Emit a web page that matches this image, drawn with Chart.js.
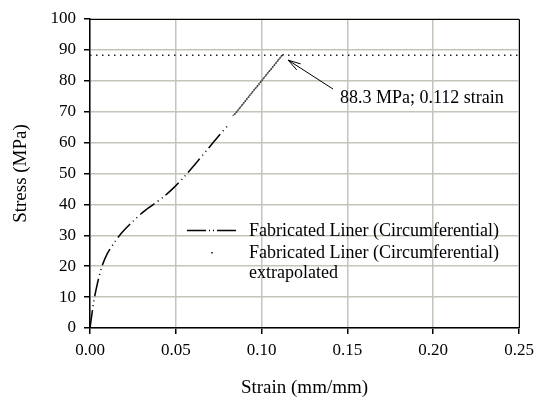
<!DOCTYPE html>
<html>
<head>
<meta charset="utf-8">
<script src="https://cdn.jsdelivr.net/npm/chart.js@4/dist/chart.umd.min.js"></script>
<style>
  html, body { margin: 0; padding: 0; background: #fff; }
  #wrap { width: 534px; height: 400px; }
</style>
</head>
<body>
<div id="wrap"><canvas id="stressStrain"></canvas></div>
<script>
'use strict';

// Data
// --------------------------------------------------------------------
const measuredStrain = [0, 0.001, 0.002, 0.003, 0.005, 0.007, 0.010, 0.014, 0.018, 0.025, 0.032, 0.037, 0.043, 0.049, 0.055, 0.062, 0.068, 0.074, 0.081];
const measuredStress = [0, 4, 8, 11, 16, 20, 24, 27.5, 30.5, 34.5, 38, 40, 42.5, 45.5, 49, 53.5, 57.5, 61.5, 66];

const extrapStrain = [0.084, 0.085, 0.086, 0.087, 0.088, 0.089, 0.090, 0.091, 0.092, 0.093, 0.094, 0.095, 0.096, 0.097, 0.098,
  0.099, 0.100, 0.101, 0.102, 0.103, 0.104, 0.105, 0.106, 0.107, 0.108, 0.109, 0.110, 0.111, 0.112];
const extrapStress = [69, 69.6, 70.3, 71, 71.7, 72.4, 73.1, 73.8, 74.5, 75.2, 75.9, 76.6, 77.3, 77.9, 78.6,
  79.3, 80, 80.7, 81.4, 82.1, 82.8, 83.4, 84.1, 84.8, 85.5, 86.2, 86.9, 87.6, 88.3];

const ultimateStress = 88.3;
const ultimateStrain = 0.112;
const limitStrain = [0, 0.25];

const seriesLabels = ['Fabricated Liner (Circumferential)', 'Fabricated Liner (Circumferential)\nextrapolated'];
const peakLabel = '88.3 MPa; 0.112 strain';
const xTicks = [0, 0.05, 0.10, 0.15, 0.20, 0.25];
const yTicks = [0, 10, 20, 30, 40, 50, 60, 70, 80, 90, 100];

(function () {
  const fontFamily = '"Liberation Serif", "Times New Roman", serif';
  const gridColor = '#c4c4bb';
  const inkColor = '#000000';

  function toPoints(xs, ys) {
    return xs.map(function (x, i) {
      return { x: x, y: ys[i] };
    });
  }

  // Frame, legend and peak annotation
  // --------------------------------------------------------------------
  const overlayPlugin = {
    id: 'overlay',
    afterDatasetsDraw: function (chart) {
      const ctx = chart.ctx;
      const area = chart.chartArea;
      const xs = chart.scales.x, ys = chart.scales.y;

      ctx.save();
      ctx.strokeStyle = inkColor;
      ctx.lineWidth = 1;
      ctx.beginPath();
      ctx.moveTo(area.left, area.top + 0.5);
      ctx.lineTo(area.right + 0.5, area.top + 0.5);
      ctx.lineTo(area.right + 0.5, area.bottom);
      ctx.stroke();

      // legend
      ctx.font = '18px ' + fontFamily;
      ctx.fillStyle = inkColor;
      ctx.textBaseline = 'middle';
      ctx.textAlign = 'left';
      const lx = 187, tx = 249;
      ctx.lineWidth = 1.5;
      ctx.setLineDash([19, 3, 1, 3, 1, 3]);
      ctx.beginPath();
      ctx.moveTo(lx, 230.5);
      ctx.lineTo(lx + 51, 230.5);
      ctx.stroke();
      ctx.setLineDash([]);
      ctx.fillText(seriesLabels[0], tx, 231);
      ctx.fillStyle = '#444';
      ctx.fillRect(211, 252, 2, 1.5);
      ctx.fillStyle = inkColor;
      seriesLabels[1].split('\n').forEach(function (line, i) {
        ctx.fillText(line, tx, 253 + i * 20);
      });

      // arrow to the ultimate point
      const px = xs.getPixelForValue(ultimateStrain) + 6;
      const py = ys.getPixelForValue(ultimateStress) + 5;
      const tailX = 333, tailY = 89;
      const ang = Math.atan2(tailY - py, tailX - px);
      ctx.lineWidth = 1;
      ctx.beginPath();
      ctx.moveTo(tailX, tailY);
      ctx.lineTo(px, py);
      ctx.moveTo(px + 13 * Math.cos(ang - 0.28), py + 13 * Math.sin(ang - 0.28));
      ctx.lineTo(px, py);
      ctx.lineTo(px + 13 * Math.cos(ang + 0.28), py + 13 * Math.sin(ang + 0.28));
      ctx.stroke();
      ctx.fillText(peakLabel, 340, 98);
      ctx.restore();
    }
  };

  const chartEl = document.getElementById('stressStrain');
  const stressStrainChart = new Chart(chartEl, {
    type: 'scatter',
    data: {
      datasets: [
        {
          label: seriesLabels[0],
          data: toPoints(measuredStrain, measuredStress),
          showLine: true,
          borderColor: inkColor,
          borderWidth: 1.5,
          borderDash: [18, 4, 1, 4, 1, 4],
          pointRadius: 0,
          tension: 0.3
        },
        {
          label: seriesLabels[1],
          data: toPoints(extrapStrain, extrapStress),
          showLine: false,
          pointStyle: 'line',
          rotation: 150,
          pointRadius: 2,
          borderColor: '#333',
          borderWidth: 1,
          pointHoverRadius: 0
        },
        {
          label: 'limit',
          data: toPoints(limitStrain, [ultimateStress, ultimateStress]),
          showLine: true,
          borderColor: '#222',
          borderWidth: 1.5,
          borderDash: [1.5, 4.5],
          pointRadius: 0
        }
      ]
    },
    options: {
      responsive: true,
      maintainAspectRatio: false,
      animation: false,
      layout: {
        padding: { top: 19, right: 15, left: 0, bottom: 0 }
      },
      plugins: {
        legend: { display: false },
        tooltip: { enabled: false }
      },
      scales: {
        x: {
          type: 'linear',
          min: 0,
          max: 0.25,
          afterFit: function (scale) {
            scale.height = 72;
            scale.paddingLeft = 0;
            scale.paddingRight = 0;
          },
          afterBuildTicks: function (scale) {
            scale.ticks = xTicks.map(function (v) { return { value: v }; });
          },
          border: { color: inkColor, width: 1.5 },
          grid: { color: gridColor, lineWidth: 1.5, tickLength: 6, tickColor: inkColor },
          ticks: {
            color: inkColor,
            padding: 6,
            maxRotation: 0,
            font: { family: fontFamily, size: 17 },
            callback: function (v) { return Number(v).toFixed(2); }
          },
          title: {
            display: true,
            text: 'Strain (mm/mm)',
            color: inkColor,
            font: { family: fontFamily, size: 19 },
            padding: { top: 0, bottom: 1 }
          }
        },
        y: {
          min: 0,
          max: 100,
          afterFit: function (scale) {
            scale.width = 90;
          },
          afterBuildTicks: function (scale) {
            scale.ticks = yTicks.map(function (v) { return { value: v }; });
          },
          border: { color: inkColor, width: 1.5 },
          grid: { color: gridColor, lineWidth: 1.5, tickLength: 6, tickColor: inkColor },
          ticks: {
            color: inkColor,
            padding: 8,
            font: { family: fontFamily, size: 17 }
          },
          title: {
            display: true,
            text: 'Stress (MPa)',
            color: inkColor,
            font: { family: fontFamily, size: 19 },
            padding: { top: 10, bottom: 0 }
          }
        }
      }
    },
    plugins: [overlayPlugin]
  });
})();
</script>
</body>
</html>
